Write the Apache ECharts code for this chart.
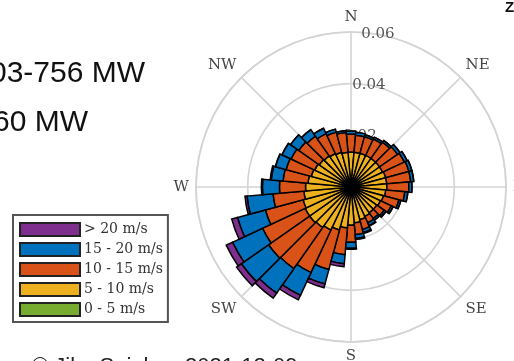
<!DOCTYPE html>
<html>
<head>
<meta charset="utf-8">
<script src="https://cdn.jsdelivr.net/npm/echarts@6/dist/echarts.min.js"></script>
<style>
html,body{margin:0;padding:0;background:#fff;}
#chart{width:514px;height:361px;}
</style>
</head>
<body>
<div id="chart"></div>
<script>
// Direction bins (degrees, centre of each 10-degree bin)
var directions = ['0','10','20','30','40','50','60','70','80','90','100','110','120','130','140','150','160','170',
                  '180','190','200','210','220','230','240','250','260','270','280','290','300','310','320','330','340','350'];
// Frequencies per speed class (stacked)
var speed0to5 = [0.0015,0.0015,0.0015,0.0015,0.0015,0.0015,0.0015,0.0015,0.0015,0.0015,0.0015,0.0014,0.0014,0.0014,0.0014,0.0014,0.0015,0.0015,
                 0.0016,0.0016,0.0017,0.0018,0.0018,0.0018,0.0018,0.0018,0.0017,0.0017,0.0016,0.0016,0.0016,0.0015,0.0015,0.0015,0.0015,0.0015];
var speed5to10 = [0.0120,0.0120,0.0120,0.0120,0.0120,0.0120,0.0120,0.0124,0.0124,0.0124,0.0120,0.0116,0.0112,0.0108,0.0108,0.0112,0.0116,0.0124,
                  0.0132,0.0143,0.0155,0.0166,0.0174,0.0178,0.0178,0.0174,0.0166,0.0159,0.0151,0.0143,0.0139,0.0135,0.0132,0.0128,0.0124,0.0120];
var speed10to15 = [0.0070,0.0066,0.0066,0.0070,0.0077,0.0085,0.0093,0.0093,0.0093,0.0085,0.0074,0.0062,0.0046,0.0035,0.0027,0.0027,0.0039,0.0046,
                   0.0066,0.0104,0.0159,0.0182,0.0194,0.0194,0.0182,0.0151,0.0120,0.0101,0.0097,0.0101,0.0101,0.0097,0.0093,0.0085,0.0081,0.0077];
var speed15to20 = [0.0012,0.0012,0.0008,0.0008,0.0008,0.0012,0.0012,0.0012,0.0012,0.0012,0.0012,0.0008,0.0008,0.0008,0.0008,0.0012,0.0012,0.0015,
                   0.0023,0.0035,0.0058,0.0097,0.0116,0.0128,0.0128,0.0112,0.0101,0.0066,0.0046,0.0043,0.0039,0.0039,0.0031,0.0023,0.0012,0.0008];
var speedOver20 = [0,0,0,0,0,0,0,0,0,0,0,0,0,0,0,0.0002,0.0004,0.0004,
                   0.0004,0.0012,0.0015,0.0019,0.0023,0.0023,0.0027,0.0023,0.0008,0.0004,0.0004,0,0,0,0,0,0,0];
var seriesNames = ['0 - 5 m/s','5 - 10 m/s','10 - 15 m/s','15 - 20 m/s','> 20 m/s'];
var seriesColors = ['#77AC30','#EDB120','#D95319','#0072BD','#7E2F8E'];
var compassLabels = ['N','NE','E','SE','S','SW','W','NW'];
var radiusTicks = [0, 0.02, 0.04, 0.06];
var textLines = ['03-756 MW', '60 MW'];
var footerName = '\u00A9 Jiko Sejal';
var footerDate = '2021-12-09';
var cornerText = 'Z';

var allSpeeds = [speed0to5, speed5to10, speed10to15, speed15to20, speedOver20];
var center = [351, 187];
var R = 155;
var serif = '"DejaVu Serif", "Liberation Serif", serif';
var gridColor = '#d4d4d4';

var series = allSpeeds.map(function (arr, i) {
  return {
    type: 'bar',
    name: seriesNames[i],
    coordinateSystem: 'polar',
    polarIndex: 0,
    stack: 'wind',
    data: arr,
    barCategoryGap: '0%',
    itemStyle: { color: seriesColors[i], borderColor: '#000', borderWidth: 1.5 },
    emphasis: { disabled: true },
    animation: false,
    z: 3
  };
});

var option = {
  animation: false,
  backgroundColor: '#fff',
  polar: [
    { center: center, radius: R },
    { center: center, radius: R },
    { center: center, radius: R }
  ],
  angleAxis: [
    { polarIndex: 0, type: 'category', data: directions, startAngle: 95, clockwise: true,
      axisLine: { show: false }, axisTick: { show: false }, axisLabel: { show: false }, splitLine: { show: false } },
    { polarIndex: 1, type: 'value', min: 0, max: 360, interval: 45, startAngle: 90, clockwise: true,
      axisLine: { show: true, lineStyle: { color: gridColor, width: 1.6 } },
      axisTick: { show: false },
      splitLine: { show: true, lineStyle: { color: gridColor, width: 1.6 } },
      axisLabel: { show: true, margin: 7, color: '#444', fontFamily: serif, fontSize: 15,
        formatter: function (v) { var k = Math.round(v / 45); return k >= 8 ? '' : compassLabels[k]; } } },
    { polarIndex: 2, type: 'value', min: 0, max: 360, startAngle: 80, clockwise: true,
      axisLine: { show: false }, axisTick: { show: false }, axisLabel: { show: false }, splitLine: { show: false } }
  ],
  radiusAxis: [
    { polarIndex: 0, type: 'value', min: 0, max: 0.06,
      axisLine: { show: false }, axisTick: { show: false }, axisLabel: { show: false }, splitLine: { show: false } },
    { polarIndex: 1, type: 'value', min: radiusTicks[0], max: radiusTicks[3], interval: 0.02,
      axisLine: { show: false }, axisTick: { show: false }, axisLabel: { show: false },
      splitLine: { show: true, lineStyle: { color: gridColor, width: 1.6 } } },
    { polarIndex: 2, type: 'value', min: radiusTicks[0], max: radiusTicks[3], interval: 0.02,
      axisLine: { show: false }, axisTick: { show: false }, splitLine: { show: false },
      axisLabel: { show: true, margin: 0, align: 'center', verticalAlign: 'middle', color: '#555',
        fontFamily: serif, fontSize: 15,
        formatter: function (v) { return v === 0 ? '' : v.toFixed(2); } } }
  ],
  legend: {
    orient: 'vertical',
    left: 13, top: 215,
    data: seriesNames.slice().reverse(),
    icon: 'rect',
    itemWidth: 60, itemHeight: 13, itemGap: 5,
    padding: [7, 5, 5, 6],
    backgroundColor: '#fff',
    borderColor: '#555', borderWidth: 2, borderRadius: 0,
    itemStyle: { borderColor: '#222', borderWidth: 2 },
    textStyle: { fontFamily: serif, fontSize: 14, color: '#333', padding: [0, 0, 0, -1] },
    selectedMode: false
  },
  graphic: [
    { type: 'text', x: -10, y: 73.5, style: { text: textLines[0], font: '30px "Liberation Sans", Arial, sans-serif', fill: '#111', verticalAlign: 'middle', align: 'left' } },
    { type: 'text', x: -7, y: 122.5, style: { text: textLines[1], font: '30px "Liberation Sans", Arial, sans-serif', fill: '#111', verticalAlign: 'middle', align: 'left' } },
    { type: 'text', x: 32, y: 356, style: { text: footerName, font: '22px "Liberation Sans", Arial, sans-serif', fill: '#222', verticalAlign: 'top', align: 'left' } },
    { type: 'text', x: 185, y: 356, style: { text: footerDate, font: '22px "Liberation Sans", Arial, sans-serif', fill: '#222', verticalAlign: 'top', align: 'left' } },
    { type: 'text', x: 505, y: 0, style: { text: cornerText, font: 'bold 15px "Liberation Sans", Arial, sans-serif', fill: '#111', verticalAlign: 'top', align: 'left' } }
  ],
  series: series
};

var chart = echarts.init(document.getElementById('chart'), null, { renderer: 'canvas' });
chart.setOption(option);
</script>
</body>
</html>
